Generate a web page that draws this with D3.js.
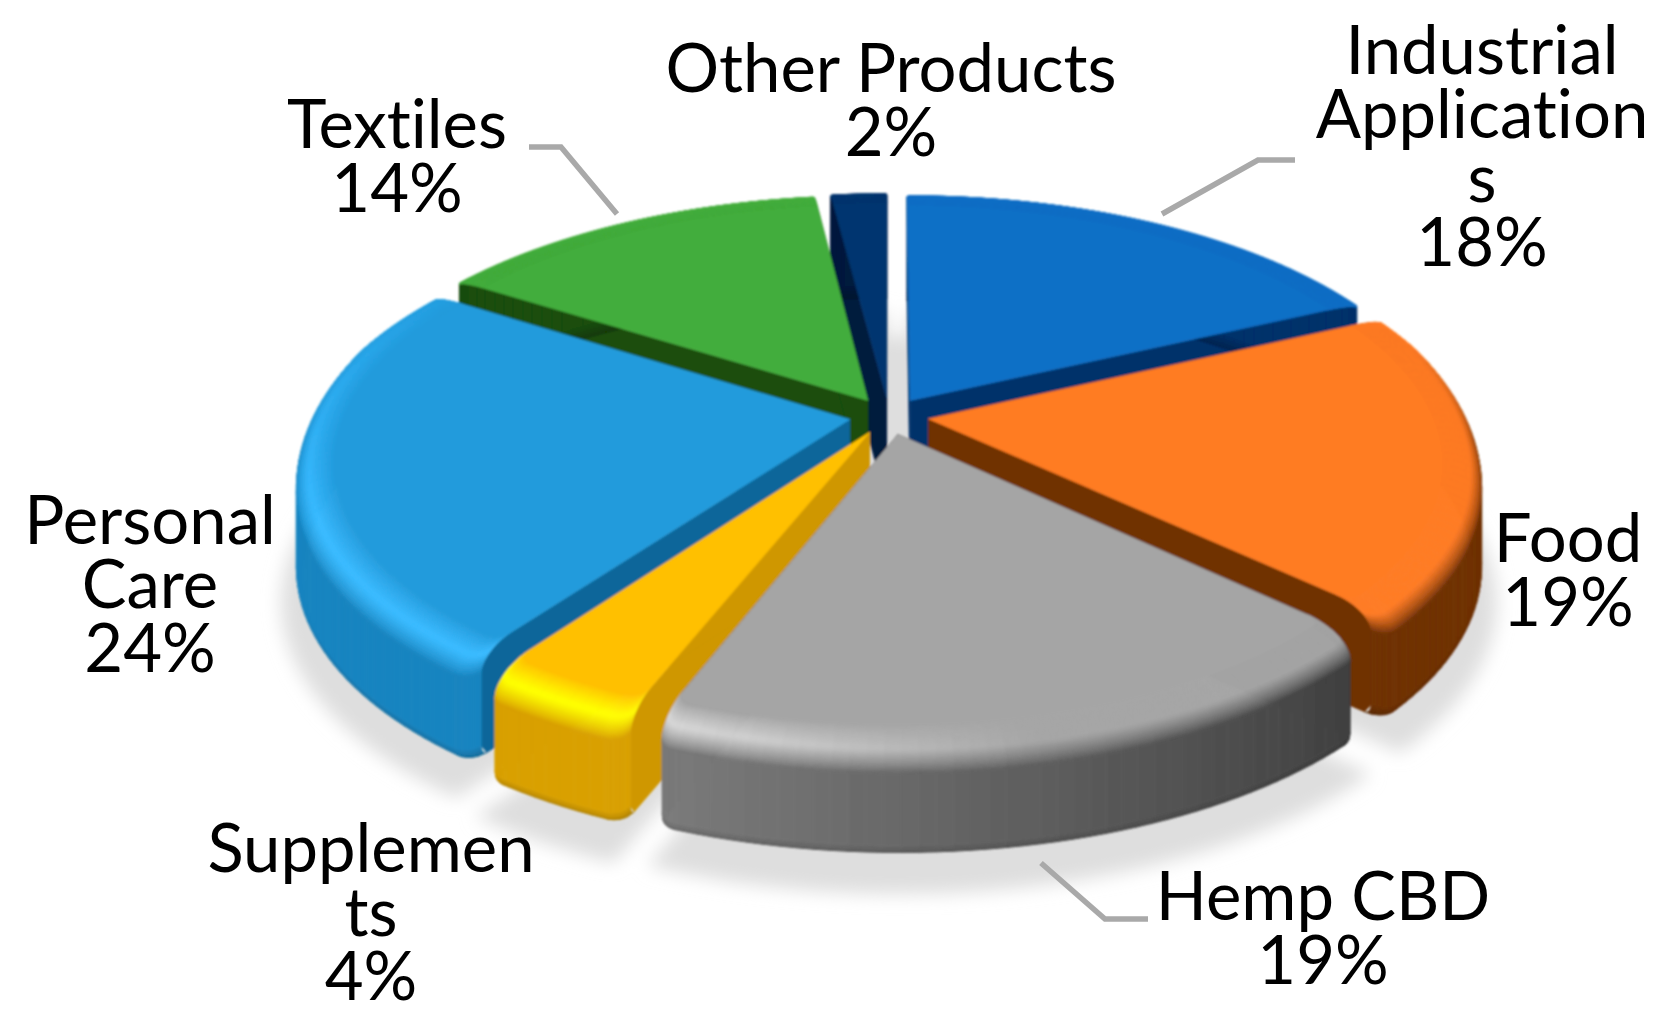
<!DOCTYPE html>
<html><head><meta charset="utf-8">
<style>html,body{margin:0;padding:0;background:#fff}svg{display:block}text{font-variant-ligatures:none}</style>
<script src="https://cdn.jsdelivr.net/npm/d3@7/dist/d3.min.js"></script>
</head><body><svg id="c" width="1675" height="1020"></svg>
<script>
const categories=["Industrial Applications","Food","Hemp CBD","Supplements","Personal Care","Textiles","Other Products"];
const values=[18,19,19,4,24,14,2];
const topColors=["#0f6fc6","#ff7b24","#a5a5a5","#ffc000","#229bdc","#43ad3c","#04356f"];
const wallDark=["#04306a","#6f3004","#404040","#cf9700","#10669a","#1a4d0a","#001a3d"];
const wallLight=["#04306a","#6f3004","#7a7a7a","#d9a000","#1684c0","#1a4d0a","#001a3d"];
const glowColors=["#0f6fc6","#ff7b24","#dedede","#ffff00","#38baff","#43ad3c","#04356f"];
const paintOrder=[6,0,5,4,1,3,2];
const labelLines=[["Industrial","Application","s","18%"],["Food","19%"],["Hemp CBD","19%"],["Supplemen","ts","4%"],["Personal","Care","24%"],["Textiles","14%"],["Other Products","2%"]];
const labelX=[1482,1568,1323,371,150,397,891];
const labelBase=[74,562,920,872,544,148,92];
const leaders=[[[1162,214],[1258,160],[1295,160]],[[617,214],[561,147],[529,147]],[[1041,863],[1105,919],[1148,919]]];

const cx=889,cy=416,persp=0.00034,tilt=0.464,R=541,explode=40,H=105,bev=36,bz=22,lip=10;
const svg=d3.select("#c");
const defs=svg.append("defs");
defs.append("filter").attr("id","soft").attr("x","-20%").attr("y","-20%").attr("width","140%").attr("height","140%")
  .append("feGaussianBlur").attr("stdDeviation",9);
defs.append("filter").attr("id","tiny").attr("x","-5%").attr("y","-5%").attr("width","110%").attr("height","110%")
  .append("feGaussianBlur").attr("stdDeviation",0.8);
const line=d3.line();
const pie=d3.pie().sort(null).startAngle(0).endAngle(2*Math.PI);
const arcs=pie(values);
const clamp=d3.scaleLinear().domain([0,1]).range([0,1]).clamp(true);
function proj(X,Y,z){const s=1/(1+persp*Y);return [cx+X*s,cy-Y*tilt*s+z];}
function pt(a,r,z,ox,oy){return proj(ox+r*Math.sin(a),oy+r*Math.cos(a),z);}
function cornerRadius(a){return Math.cos(a)<-0.2?16:3;}
function radiusAt(a,a0,a1){
  const near=(a-a0)<(a1-a)?a0:a1,rc=cornerRadius(near);
  const d=Math.min(a-a0,a1-a)*R;
  if(d>=rc) return R;
  return R-rc+Math.sqrt(Math.max(0,rc*rc-(rc-d)*(rc-d)));
}
function samples(a0,a1){
  const out=[],step=1.5*Math.PI/180,fine=0.2*Math.PI/180,edge=16/R;
  for(let a=a0;a<a0+edge;a+=fine) out.push(a);
  for(let a=a0+edge;a<a1-edge;a+=step) out.push(a);
  for(let a=a1-edge;a<a1;a+=fine) out.push(a);
  out.push(a1);return out;
}
function glowAt(a){
  const deg=a*180/Math.PI;
  if(deg<205) return clamp((deg-168)/37);
  return clamp((310-deg)/60);
}
const bevelSteps=d3.range(0,19).map(i=>i/18);
const profile=[];
bevelSteps.forEach(t=>profile.push({ins:bev*(1-Math.sin(t*Math.PI/2)),z:bz*(1-Math.cos(t*Math.PI/2)),t,kind:"bevel"}));
profile.push({ins:0,z:H-lip,t:1,kind:"wall"});
d3.range(1,5).forEach(i=>{const u=i/4;profile.push({ins:(1-Math.cos(u*Math.PI/2))*7,z:H-lip+lip*Math.sin(u*Math.PI/2),t:u,kind:"lip"});});
// the rounded lip flattens toward the back of the pie
function depthAt(p,a){return p.kind==="bevel"?p.z*(0.15+0.85*clamp((0.3-Math.cos(a))/0.6)):p.z;}

function shade(i,a,p){
  const wt=clamp((a*180/Math.PI-135)/65);
  const wall=d3.interpolateRgb(wallDark[i],wallLight[i])(wt);
  if(p.kind==="lip") return d3.interpolateRgb(wall,d3.color(wall).darker(0.9).formatRgb())(p.t);
  if(p.kind==="wall") return wall;
  const g=glowAt(a),top=topColors[i];
  const peak=d3.interpolateRgb(top,glowColors[i])(g);
  const back=clamp((Math.cos(a)+0.05)/0.35);
  const end=d3.interpolateRgb(wall,top)(back);
  const t=p.t;
  return t<0.45?d3.interpolateRgb(top,peak)(t/0.45):(t<0.52?peak:d3.interpolateRgb(peak,end)((t-0.52)/0.48));
}

const shadow=svg.append("g").attr("filter","url(#soft)").attr("fill","#dedede");
arcs.forEach(d=>{
  const mid=(d.startAngle+d.endAngle)/2,ox=explode*Math.sin(mid),oy=explode*Math.cos(mid)-40;
  const a=samples(d.startAngle,d.endAngle).map(x=>pt(x,R+6,H+4,ox,oy));
  shadow.append("path").attr("d",line([proj(ox,oy,H+4),...a])+"Z");
});
shadow.append("circle").attr("cx",cx).attr("cy",cy+40).attr("r",120);

const pieG=svg.append("g").attr("filter","url(#tiny)");
paintOrder.forEach(i=>{
  const d=arcs[i],a0=d.startAngle,a1=d.endAngle,mid=(a0+a1)/2;
  const ox=explode*Math.sin(mid),oy=explode*Math.cos(mid);
  const g=pieG.append("g").attr("class","slice");
  const ang=samples(a0,a1);
  [a0,a1].forEach(a=>{
    const r=radiusAt(a,a0,a1);
    const poly=[proj(ox,oy,0),...profile.filter(p=>p.kind!=="lip"||p.t===1).map(p=>pt(a,r-p.ins,depthAt(p,a),ox,oy)),proj(ox,oy,H)];
    g.append("path").attr("d",line(poly)+"Z").attr("fill",wallDark[i]).attr("stroke",wallDark[i]).attr("stroke-width",0.6);
  });
  for(let k=profile.length-2;k>=0;k--){
    const p0=profile[k],p1=profile[k+1];
    for(let j=0;j<ang.length-1;j++){
      const a=ang[j],b=ang[j+1],m=(a+b)/2;
      const ra=radiusAt(a,a0,a1),rb=radiusAt(b,a0,a1);
      const c=shade(i,m,p1);
      g.append("path").attr("d",line([pt(a,ra-p0.ins,depthAt(p0,a),ox,oy),pt(b,rb-p0.ins,depthAt(p0,b),ox,oy),pt(b,rb-p1.ins,depthAt(p1,b),ox,oy),pt(a,ra-p1.ins,depthAt(p1,a),ox,oy)])+"Z")
        .attr("fill",c).attr("stroke",c).attr("stroke-width",0.7);
    }
  }
  const topPoly=[proj(ox,oy,0),...ang.map(a=>pt(a,radiusAt(a,a0,a1)-bev,0,ox,oy))];
  g.append("path").attr("d",line(topPoly)+"Z").attr("fill",topColors[i]).attr("stroke",topColors[i]).attr("stroke-width",0.7);
});

svg.append("g").selectAll("path").data(leaders).join("path").attr("d",d=>line(d))
  .attr("fill","none").attr("stroke","#a9a9a9").attr("stroke-width",5.5);

const lh=64;
const lab=svg.append("g").attr("font-family","Lato, 'Open Sans', sans-serif").attr("font-size",67).attr("fill","#000").attr("text-anchor","middle");
labelLines.forEach((ls,i)=>{
  ls.forEach((t,k)=>{lab.append("text").attr("x",labelX[i]).attr("y",labelBase[i]+k*lh).text(t);});
});
</script></body></html>
